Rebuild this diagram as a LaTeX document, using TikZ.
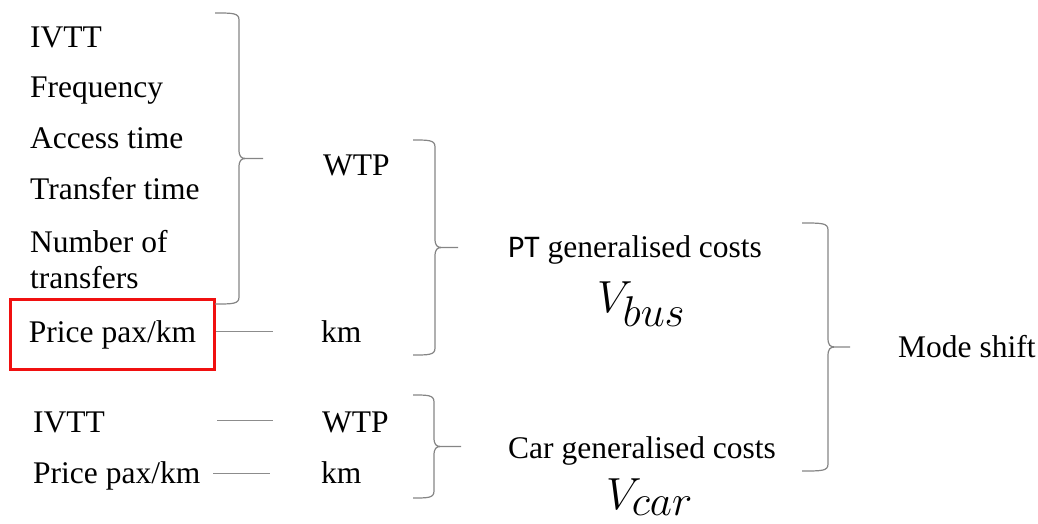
\RequirePackage{fix-cm}
\documentclass[tikz,border=0pt]{standalone}
\usepackage{fontspec}
\setmainfont{Liberation Serif}
\newfontfamily\ptfont{Carlito}
\definecolor{bracegray}{HTML}{858585}
\definecolor{linegray}{HTML}{8C8C8C}
\definecolor{boxred}{HTML}{F01010}
\newcommand\drawcurlybrace[6]{% x0, xv, xtip, ytop, ymid, ybot
  \draw[bracegray, line width=1.2pt]
    (#1,#4) .. controls (#2-6,#4) and (#2,#4) .. (#2,#4+7)
    -- (#2,#5-9) .. controls (#2,#5-2) and (#2+2,#5) .. (#2+7,#5)
    -- (#3,#5)
    (#2+7,#5) .. controls (#2+2,#5) and (#2,#5+2) .. (#2,#5+9)
    -- (#2,#6-7) .. controls (#2,#6) and (#2-6,#6) .. (#1,#6);}
\begin{document}
\begin{tikzpicture}[x=1pt,y=-1pt,
  lbl/.style={anchor=base west, inner sep=0pt, font=\fontsize{31.5}{35}\selectfont},
  conn/.style={linegray, line width=1pt},
  mathlbl/.style={anchor=base west, inner sep=0pt, font=\fontsize{45}{48}\selectfont}]
\useasboundingbox (0,0) rectangle (1038,524);

% left column (PT)
\node[lbl] (ivtt) at (30,48) {IVTT};
\node[lbl] (freq) at (30,98) {Frequency};
\node[lbl] (acc) at (30,148) {Access time};
\node[lbl] (trt) at (30,199) {Transfer time};
\node[lbl] (num) at (30,252) {Number of};
\node[lbl] (ntr) at (30,288) {transfers};
\node[draw=boxred, line width=2.6pt, minimum width=204pt, minimum height=70pt,
      inner sep=0pt, font=\fontsize{31.5}{35}\selectfont] (price) at (112.5,334.5) {Price pax/km};

\node[lbl] (wtp) at (323,175) {WTP};
\node[lbl] (km) at (321,342) {km};

\drawcurlybrace{215}{239}{263}{13}{158.5}{304}
\draw[conn, shorten >=48pt] (price.east |- 0,331) -- (km.west |- 0,331);

% PT generalised costs
\node[lbl] (ptgc) at (508,257) {{\ptfont PT} generalised costs};
\node[mathlbl] (vbus) at (597,312) {$V_{\hbox{\fontsize{43}{43}\selectfont$bus$}}$};
\drawcurlybrace{413}{435}{458}{140}{247.5}{355}

% car part
\node[lbl] (ivtt2) at (33,432) {IVTT};
\node[lbl] (price2) at (33,483) {Price pax/km};
\node[lbl] (wtp2) at (322,432) {WTP};
\node[lbl] (km2) at (321,483) {km};
\coordinate (l1a) at (217,420);
\coordinate (l1b) at (273,420);
\coordinate (l2a) at (213,473);
\coordinate (l2b) at (270,473);
\draw[conn] (l1a) -- (l1b);
\draw[conn] (l2a) -- (l2b);
\drawcurlybrace{413}{434}{461}{395}{446.5}{498}
\node[lbl] (cargc) at (508,458) {Car generalised costs};
\node[mathlbl] (vcar) at (606,509) {$V_{\hbox{\fontsize{43}{43}\selectfont$car$}}$};

% mode shift
\drawcurlybrace{802}{828}{850}{223}{347}{471}
\node[lbl] (mode) at (898,357) {Mode shift};
\end{tikzpicture}
\end{document}
